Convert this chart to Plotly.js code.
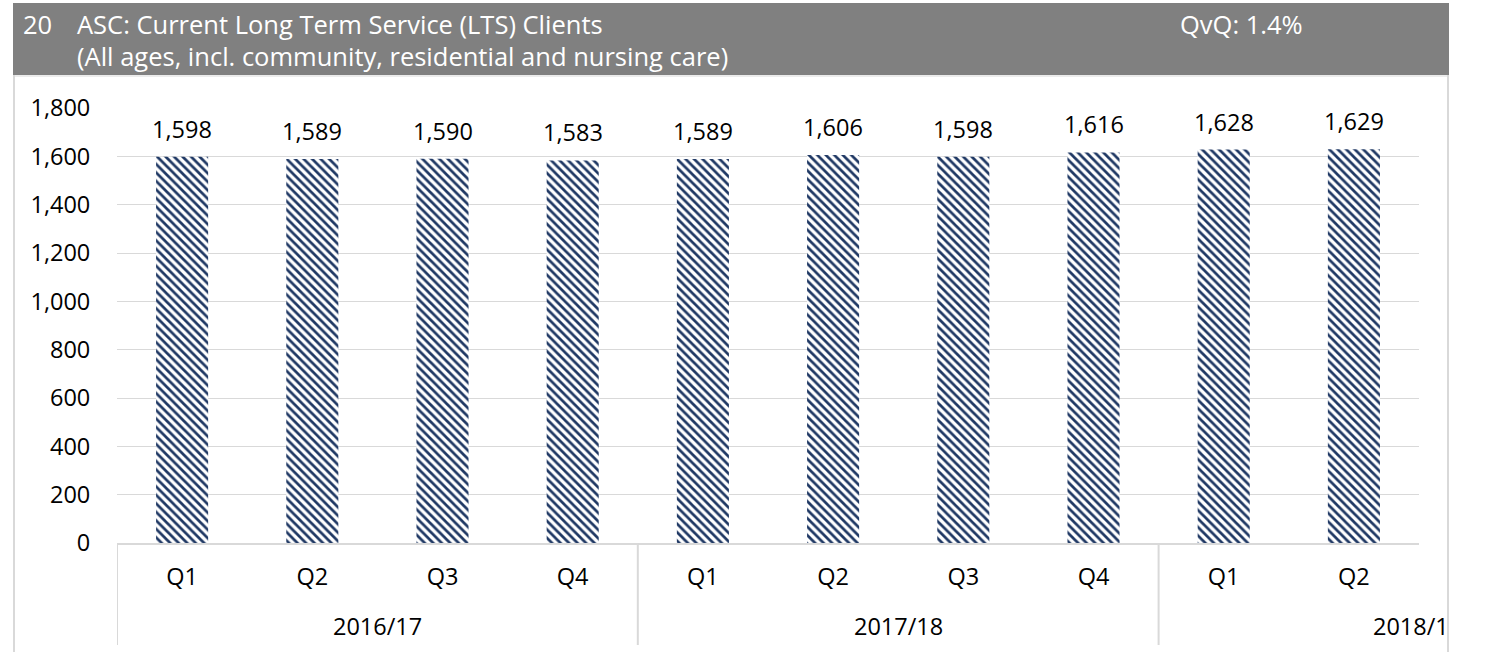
<!DOCTYPE html>
<html>
<head>
<meta charset="utf-8">
<script src="https://cdn.plot.ly/plotly-3.0.1.min.js"></script>
<style>
html,body{margin:0;padding:0;background:#fff;}
#chart{width:1488px;height:652px;}
</style>
</head>
<body>
<div id="chart"></div>
<script>
// ---- data ----
const quarters = ["Q1","Q2","Q3","Q4","Q1","Q2","Q3","Q4","Q1","Q2"];
const clients = [1598,1589,1590,1583,1589,1606,1598,1616,1628,1629];
const years = ["2016/17","2017/18","2018/1"];
const yearSizes = [4,4,2];
const yTicks = [0,200,400,600,800,1000,1200,1400,1600,1800];
const chartNumber = "20";
const titleLine1 = "ASC: Current Long Term Service (LTS) Clients";
const titleLine2 = "(All ages, incl. community, residential and nursing care)";
const changeText = "QvQ: 1.4%";

// ---- layout geometry ----
const W = 1488, H = 652;
const L = 117, R = 1419, T = 108, B = 543;
const px2x = p => (p - L) / (R - L);
const px2y = p => (B - p) / (B - T);
const FONT = "Open Sans, Noto Sans, sans-serif";
const GRID = "#d9d9d9";
const FS = 23.5;   // axis / label font size
const TFS = 25.5;  // title font size

const xIdx = quarters.map((_, i) => i);

const trace = {
  type: "bar",
  x: xIdx,
  y: clients,
  width: 0.4,
  marker: {
    color: "#ffffff",
    line: {width: 0},
    pattern: {shape: "\\", fgcolor: "#1f3864", bgcolor: "#ffffff", size: 6, solidity: 0.45, fillmode: "replace"}
  },
  hoverinfo: "skip"
};

const annotations = [];
// data labels
clients.forEach((v, i) => {
  annotations.push({
    x: i, y: v, xref: "x", yref: "y",
    text: v.toLocaleString("en-US"),
    showarrow: false, yanchor: "bottom", yshift: 10,
    font: {family: FONT, size: FS, color: "#000"}
  });
});

const shapes = [];
// group labels & dividers
let start = 0;
years.forEach((yr, g) => {
  const n = yearSizes[g];
  const left = start - 0.5;
  shapes.push({type: "line", xref: "x", yref: "paper", x0: left, x1: left,
    y0: 0, y1: px2y(645), line: {color: GRID, width: 2}});
  if (g < years.length - 1) {
    annotations.push({x: start + (n - 1) / 2, xref: "x", y: px2y(626), yref: "paper",
      text: yr, showarrow: false, yanchor: "middle",
      font: {family: FONT, size: FS, color: "#000"}});
  } else {
    annotations.push({x: px2x(1451), xref: "paper", xanchor: "right", y: px2y(626), yref: "paper",
      text: yr, showarrow: false, yanchor: "middle",
      font: {family: FONT, size: FS, color: "#000"}});
  }
  start += n;
});

// title bar
shapes.push({type: "rect", xref: "paper", yref: "paper", layer: "below",
  x0: px2x(13), x1: px2x(1449), y0: px2y(75), y1: px2y(3),
  fillcolor: "#808080", line: {width: 0}});
// chart border
shapes.push({type: "line", xref: "paper", yref: "paper", x0: px2x(14), x1: px2x(14), y0: px2y(75), y1: px2y(652), line: {color: GRID, width: 2}});
shapes.push({type: "line", xref: "paper", yref: "paper", x0: px2x(1448), x1: px2x(1448), y0: px2y(75), y1: px2y(652), line: {color: GRID, width: 2}});
shapes.push({type: "line", xref: "paper", yref: "paper", x0: px2x(14), x1: px2x(1448), y0: px2y(76), y1: px2y(76), line: {color: GRID, width: 1}});

annotations.push({x: px2x(21), xref: "paper", xanchor: "left", y: px2y(24), yref: "paper", yanchor: "middle",
  text: chartNumber, showarrow: false, font: {family: FONT, size: TFS, color: "#fff"}});
annotations.push({x: px2x(75), xref: "paper", xanchor: "left", y: px2y(24), yref: "paper", yanchor: "middle",
  text: titleLine1, showarrow: false, font: {family: FONT, size: TFS, color: "#fff"}});
annotations.push({x: px2x(75), xref: "paper", xanchor: "left", y: px2y(56), yref: "paper", yanchor: "middle",
  text: titleLine2, showarrow: false, font: {family: FONT, size: TFS, color: "#fff"}});
annotations.push({x: px2x(1178), xref: "paper", xanchor: "left", y: px2y(24), yref: "paper", yanchor: "middle",
  text: changeText, showarrow: false, font: {family: FONT, size: TFS, color: "#fff"}});

const layout = {
  width: W, height: H,
  margin: {l: L, r: W - R, t: T, b: H - B, pad: 0},
  paper_bgcolor: "#fff", plot_bgcolor: "#fff",
  showlegend: false,
  font: {family: FONT, size: FS, color: "#000"},
  xaxis: {
    range: [-0.5, quarters.length - 0.5],
    tickmode: "array", tickvals: xIdx, ticktext: quarters,
    showgrid: false, zeroline: false,
    showline: true, linecolor: GRID, linewidth: 2,
    ticks: "outside", ticklen: 12, tickcolor: "rgba(0,0,0,0)",
    tickfont: {family: FONT, size: FS, color: "#000"},
    fixedrange: true
  },
  yaxis: {
    range: [0, 1800],
    tickmode: "array", tickvals: yTicks,
    tickformat: ",d",
    showgrid: true, gridcolor: GRID, gridwidth: 1,
    zeroline: false, showline: false,
    ticks: "outside", ticklen: 21, tickcolor: "rgba(0,0,0,0)",
    tickfont: {family: FONT, size: FS, color: "#000"},
    fixedrange: true
  },
  shapes: shapes,
  annotations: annotations
};

Plotly.newPlot("chart", [trace], layout, {staticPlot: true, displayModeBar: false});
</script>
</body>
</html>
